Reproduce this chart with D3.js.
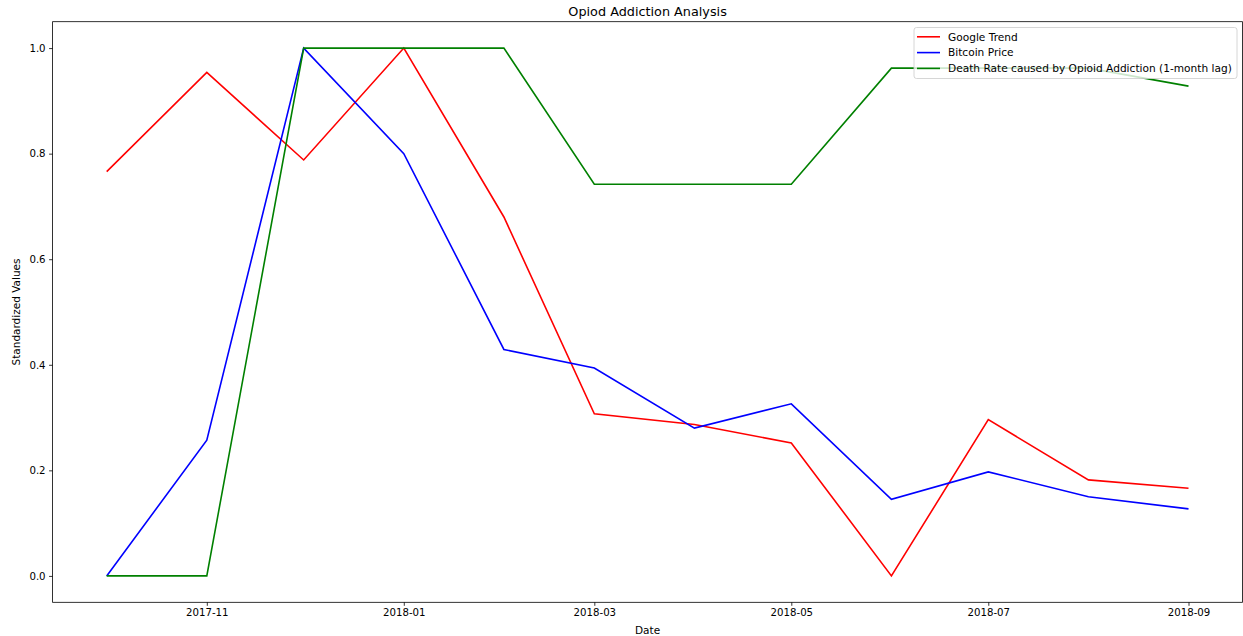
<!DOCTYPE html>
<html>
<head>
<meta charset="utf-8">
<script src="https://cdn.jsdelivr.net/npm/d3@7"></script>
<style>
  body { margin: 0; background: #fff; overflow: hidden; }
  text { font-family: "DejaVu Sans", sans-serif; fill: #000; }
</style>
</head>
<body>
<script>
// Data, one value per month
const months = ["2017-10-01", "2017-11-01", "2017-12-01", "2018-01-01", "2018-02-01", "2018-03-01",
                "2018-04-01", "2018-05-01", "2018-06-01", "2018-07-01", "2018-08-01", "2018-09-01"];
const googleTrend = [0.766, 0.954, 0.788, 1.0, 0.680, 0.307, 0.287, 0.252, 0.0, 0.296, 0.182, 0.166];
const bitcoinPrice = [0.0, 0.257, 1.0, 0.800, 0.429, 0.394, 0.280, 0.326, 0.145, 0.197, 0.150, 0.127];
const deathRate = [0.0, 0.0, 1.0, 1.0, 1.0, 0.742, 0.742, 0.742, 0.962, 0.962, 0.962, 0.928];
const seriesNames = ["Google Trend", "Bitcoin Price", "Death Rate caused by Opioid Addiction (1-month lag)"];
const yTicks = [0.0, 0.2, 0.4, 0.6, 0.8, 1.0];

const parse = d3.timeParse("%Y-%m-%d");
const dates = months.map(parse);

const series = [
  {name: seriesNames[0], values: googleTrend, color: "#ff0000"},
  {name: seriesNames[1], values: bitcoinPrice, color: "#0000ff"},
  {name: seriesNames[2], values: deathRate, color: "#008000"}
];

// Set the dimensions of the page and the plot area
const W = 1243, H = 636;
const plot = {left: 52.6, right: 1242.6, top: 21.7, bottom: 602.3};

const svg = d3.select("body")
  .append("svg")
    .attr("width", W)
    .attr("height", H);

// X scale with matplotlib-like 5% margins
const t0 = dates[0], t1 = dates[dates.length - 1];
const pad = (t1 - t0) * 0.05;
const x = d3.scaleTime()
    .domain([new Date(+t0 - pad), new Date(+t1 + pad)])
    .range([plot.left, plot.right]);

const y = d3.scaleLinear()
    .domain([-0.05, 1.05])
    .range([plot.bottom, plot.top]);

// Axes
const xAxis = svg.append("g")
    .attr("transform", "translate(0," + plot.bottom + ")")
    .call(d3.axisBottom(x)
      .ticks(d3.timeMonth.every(2))
      .tickFormat(d3.timeFormat("%Y-%m"))
      .tickSizeInner(3.5)
      .tickSizeOuter(0)
      .tickPadding(3));

const yAxis = svg.append("g")
    .attr("transform", "translate(" + plot.left + ",0)")
    .call(d3.axisLeft(y)
      .tickValues(yTicks)
      .tickFormat(d3.format(".1f"))
      .tickSizeInner(3.5)
      .tickSizeOuter(0)
      .tickPadding(3.5));

[xAxis, yAxis].forEach(g => {
  g.select(".domain").remove();
  g.selectAll(".tick line").attr("stroke", "#000").attr("stroke-width", 0.8);
  g.selectAll(".tick text")
    .style("font-family", "DejaVu Sans")
    .style("font-size", "10.2px")
    .attr("fill", "#222");
});

// Lines
const line = d3.line()
    .x((d, i) => x(dates[i]))
    .y(d => y(d));

svg.selectAll("path.series")
  .data(series)
  .enter()
  .append("path")
    .attr("class", "series")
    .attr("d", d => line(d.values))
    .attr("fill", "none")
    .attr("stroke", d => d.color)
    .attr("stroke-width", 1.6)
    .attr("stroke-linejoin", "miter");

// Frame
svg.append("rect")
    .attr("x", plot.left)
    .attr("y", plot.top)
    .attr("width", plot.right - plot.left)
    .attr("height", plot.bottom - plot.top)
    .attr("fill", "none")
    .attr("stroke", "#000")
    .attr("stroke-width", 0.8);

// Title and labels
svg.append("text")
    .attr("x", (plot.left + plot.right) / 2)
    .attr("y", 16)
    .attr("text-anchor", "middle")
    .style("font-size", "12.8px")
    .text("Opiod Addiction Analysis");

svg.append("text")
    .attr("x", (plot.left + plot.right) / 2)
    .attr("y", 634)
    .attr("text-anchor", "middle")
    .style("font-size", "10.5px")
    .text("Date");

svg.append("text")
    .attr("transform", "translate(20," + ((plot.top + plot.bottom) / 2) + ") rotate(-90)")
    .attr("text-anchor", "middle")
    .style("font-size", "10.5px")
    .text("Standardized Values");

// Legend
const legend = svg.append("g").attr("transform", "translate(914,27.5)");
legend.append("rect")
    .attr("width", 323)
    .attr("height", 51)
    .attr("rx", 2.5)
    .attr("fill", "#fff")
    .attr("fill-opacity", 0.8)
    .attr("stroke", "#ccc")
    .attr("stroke-width", 0.8);

const item = legend.selectAll("g.item")
  .data(series)
  .enter()
  .append("g")
    .attr("class", "item")
    .attr("transform", (d, i) => "translate(0," + (9.3 + i * 15.8) + ")");

item.append("line")
    .attr("x1", 3)
    .attr("x2", 26)
    .attr("stroke", d => d.color)
    .attr("stroke-width", 1.6);

item.append("text")
    .attr("x", 34)
    .attr("dy", "0.35em")
    .style("font-size", "10.6px")
    .text(d => d.name);
</script>
</body>
</html>
